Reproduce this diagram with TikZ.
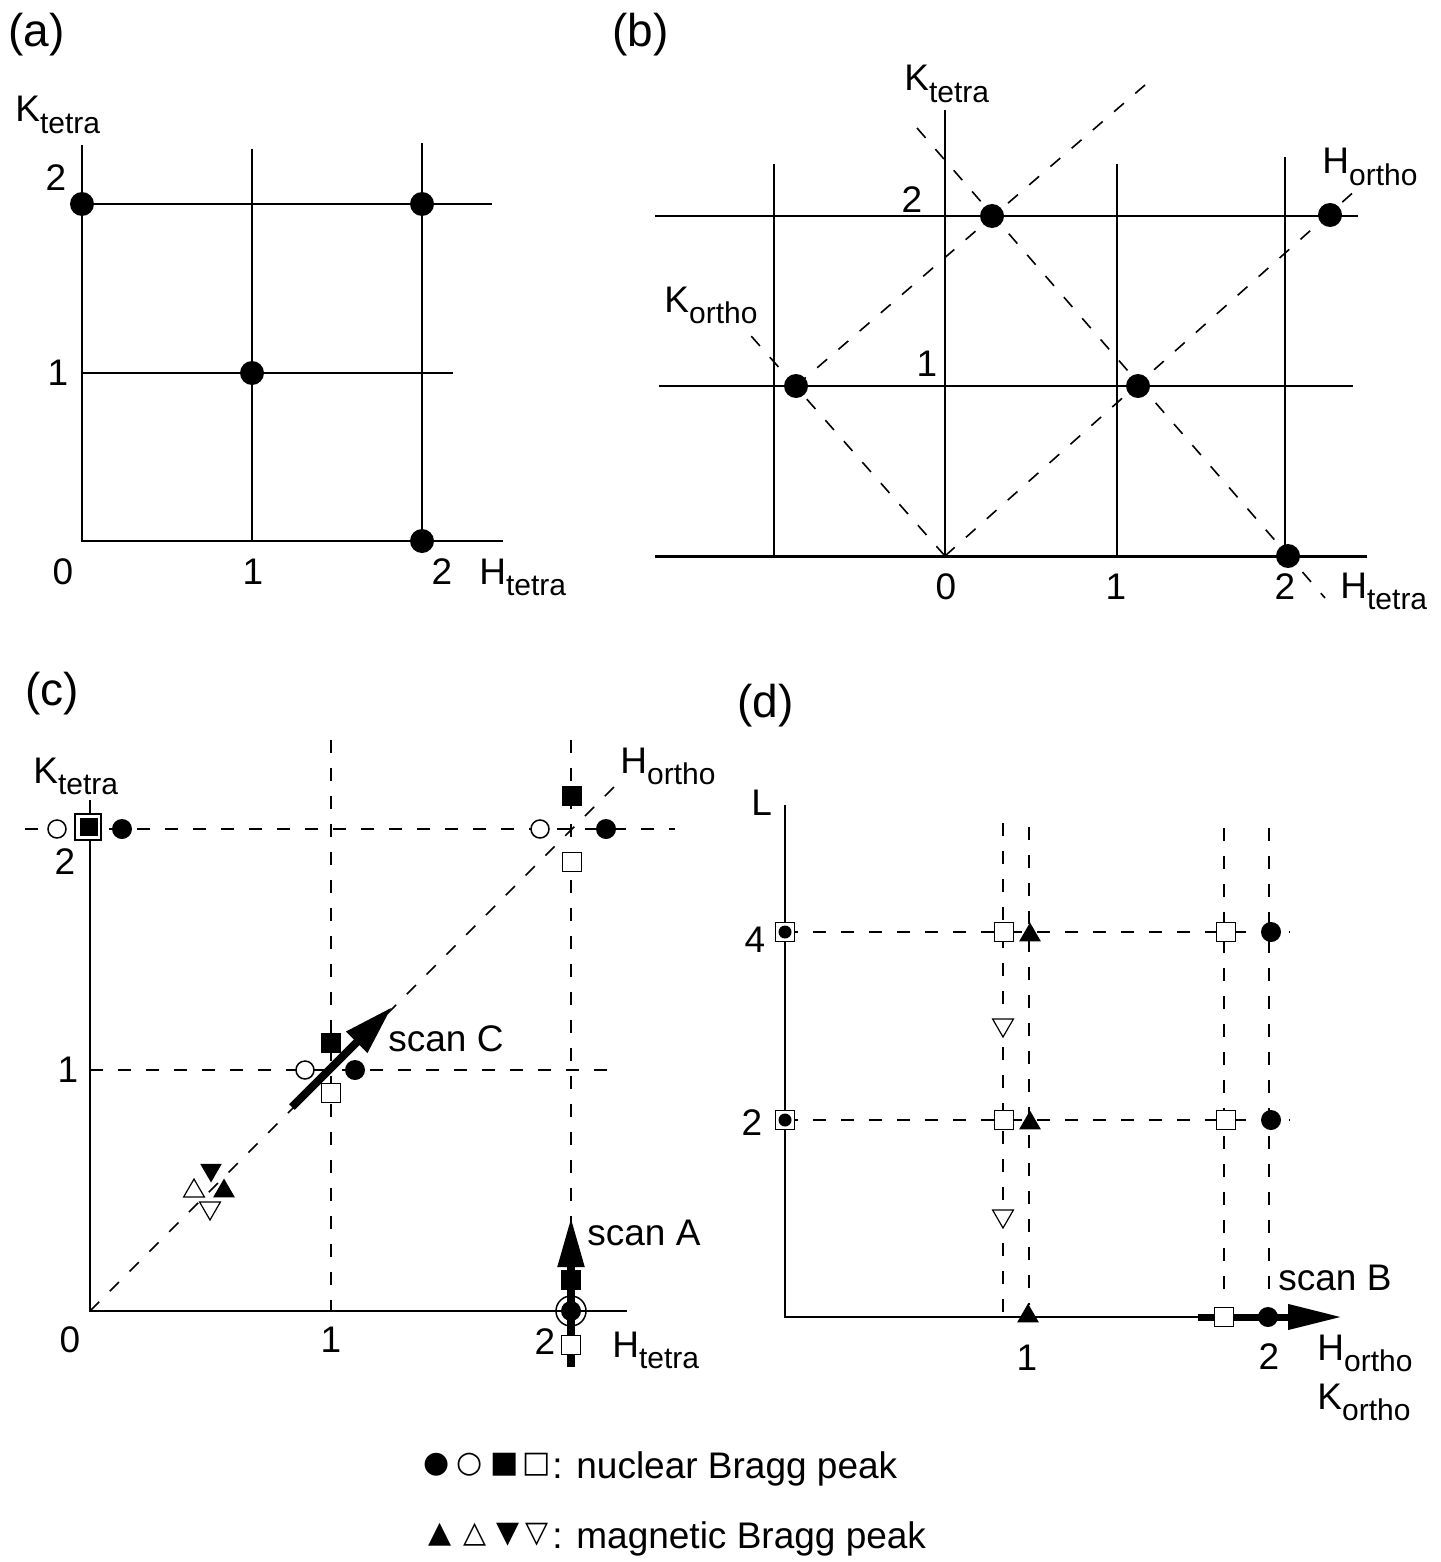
\documentclass[tikz,border=0pt]{standalone}
\usepackage{fontspec}
\setmainfont{Liberation Sans}
\newfontfamily\symfont{DejaVu Sans}
\usetikzlibrary{arrows.meta,shapes.geometric}
\newcommand{\lsub}[1]{\raisebox{-0.3em}{\fontsize{15}{15}\selectfont #1}}
\begin{document}
\begin{tikzpicture}[x=0.5pt, y=-0.5pt,
  lbl/.style={inner sep=0pt, font=\fontsize{18.5}{21}\selectfont},
  plbl/.style={inner sep=0pt, font=\fontsize{23}{26}\selectfont},
  symlbl/.style={inner sep=0pt, font=\fontsize{15}{17}\selectfont\symfont},
  gridln/.style={line width=0.8pt},
  axln/.style={line width=1pt},
  dashln/.style={line width=0.8pt, dash pattern=on 6.5pt off 7.5pt},
  bigdot/.style={circle, fill=black, inner sep=0pt, minimum size=12pt},
  fdot/.style={circle, fill=black, inner sep=0pt, minimum size=10pt},
  odot/.style={circle, draw=black, fill=white, line width=0.75pt, inner sep=0pt, minimum size=9pt},
  ring/.style={circle, draw=black, line width=0.75pt, inner sep=0pt, minimum size=15pt},
  fsq/.style={rectangle, fill=black, inner sep=0pt, minimum size=10pt},
  osq/.style={rectangle, draw=black, fill=white, line width=0.75pt, inner sep=0pt, minimum size=9.5pt},
  bsq/.style={rectangle, draw=black, fill=white, line width=0.9pt, inner sep=0pt, minimum size=13pt},
  smdot/.style={circle, fill=black, inner sep=0pt, minimum size=6.5pt},
  ftri/.style={regular polygon, regular polygon sides=3, fill=black, inner sep=0pt, minimum size=12.5pt},
  otri/.style={regular polygon, regular polygon sides=3, draw=black, fill=white, line width=0.6pt, inner sep=0pt, minimum size=12pt},
  flipdown/.style={shape border rotate=180}
]
\fill[white] (0,0) rectangle (1440,1562);
\useasboundingbox (0,0) rectangle (1440,1562);

%% ---------------- (a) ----------------
\coordinate (aO) at (82,541);
\coordinate (aYt) at (82,145);
\coordinate (aXr) at (503,541);
\draw[axln] (aYt) -- (aO) -- (aXr);
\draw[gridln] (82,204) -- (492,204);
\draw[gridln] (82,373) -- (453,373);
\draw[gridln] (252,149) -- (252,541);
\draw[gridln] (422,143) -- (422,541);
\node[bigdot] (ad1) at (82,204) {};
\node[bigdot] (ad2) at (422,204) {};
\node[bigdot] (ad3) at (252,373) {};
\node[bigdot] (ad4) at (422,541) {};
\node[plbl, anchor=base west] (pa) at (8,47) {(a)};
\node[lbl, anchor=base west] (aK) at (15,122) {K\lsub{tetra}};
\node[lbl] (aY2) at (56,178) {2};
\node[lbl] (aY1) at (58,373) {1};
\node[lbl] (aX0) at (63,572) {0};
\node[lbl] (aX1) at (253,572) {1};
\node[lbl] (aX2) at (442,572) {2};
\node[lbl, anchor=base west] (aH) at (479,584) {H\lsub{tetra}};

%% ---------------- (b) ----------------
\coordinate (bO) at (945,556);
\draw[line width=1.5pt] (655,556) -- (1367,556);
\draw[gridln] (945,110) -- (bO);
\draw[gridln] (655,216) -- (1358,216);
\draw[gridln] (659,386) -- (1353,386);
\draw[gridln] (774,164) -- (774,556);
\draw[gridln] (1117,164) -- (1117,556);
\draw[gridln] (1285,157) -- (1285,556);
\draw[dashln] (bO) -- (1357,189);
\draw[dashln] (796,386) -- (1145,85);
\draw[dashln] (bO) -- (745,329);
\draw[dashln] (917,128) -- (1325,598);
\node[bigdot] (bd1) at (992,216) {};
\node[bigdot] (bd2) at (1330,215) {};
\node[bigdot] (bd3) at (796,386) {};
\node[bigdot] (bd4) at (1138,386) {};
\node[bigdot] (bd5) at (1288,556) {};
\node[plbl, anchor=base west] (pb) at (612,47) {(b)};
\node[lbl, anchor=base west] (bK) at (904,91) {K\lsub{tetra}};
\node[lbl, anchor=base west] (bHo) at (1322,174) {H\lsub{ortho}};
\node[lbl, anchor=base west] (bKo) at (664,312) {K\lsub{ortho}};
\node[lbl] (bY2) at (912,200) {2};
\node[lbl] (bY1) at (927,364) {1};
\node[lbl] (bX0) at (946,587) {0};
\node[lbl] (bX1) at (1116,587) {1};
\node[lbl] (bX2) at (1285,587) {2};
\node[lbl, anchor=base west] (bH) at (1340,598) {H\lsub{tetra}};

%% ---------------- (c) ----------------
\coordinate (cO) at (90,1311);
\draw[axln] (90,800) -- (cO) -- (627,1311);
\draw[dashln] (25,829) -- (675,829);
\draw[dashln] (90,1070) -- (620,1070);
\draw[dashln] (331,740) -- (331,1311);
\draw[dashln] (571,740) -- (571,1311);
\draw[dashln] (cO) -- (620,781);
% (0,2)
\node[odot] (c1) at (57,829) {};
\node[bsq] (c2) at (88,827) {};
\node[fsq, minimum size=9pt] (c3) at (89,827) {};
\node[fdot] (c4) at (122,829) {};
% (2,2)
\node[odot] (c5) at (540,829) {};
\node[fsq] (c6) at (572,796) {};
\node[fdot] (c7) at (606,829) {};
\node[osq] (c8) at (572,862) {};
% (1,1)
\node[fsq] (c9) at (331,1043) {};
\node[odot] (c10) at (305,1070) {};
\node[fdot] (c11) at (355,1070) {};
\node[osq] (c12) at (331,1093) {};
% magnetic (1/2,1/2)
\node[ftri, flipdown] (c13) at (211,1170) {};
\node[otri] (c14) at (194,1191) {};
\node[ftri] (c15) at (224,1191) {};
\node[otri, flipdown] (c16) at (210,1208) {};
% scan C
\coordinate (sCt) at (292,1107);
\coordinate (sCh) at (392,1007);
\draw[line width=4pt, -{Triangle[length=25pt,width=14pt]}] (sCt) -- (sCh);
% (2,0) and scan A
\node[ring] (c17) at (571,1311) {};
\coordinate (sAt) at (571,1367);
\coordinate (sAh) at (571,1217);
\draw[line width=4pt, -{Triangle[length=25pt,width=12.5pt]}] (sAt) -- (sAh);
\node[fdot] (c18) at (571,1311) {};
\node[fsq] (c19) at (571,1280) {};
\node[osq] (c20) at (571,1345) {};
\node[plbl, anchor=base west] (pc) at (25,705) {(c)};
\node[lbl, anchor=base west] (cK) at (33,783) {K\lsub{tetra}};
\node[lbl, anchor=base west] (cHo) at (620,773) {H\lsub{ortho}};
\node[lbl] (cY2) at (65,862) {2};
\node[lbl] (cY1) at (68,1070) {1};
\node[lbl] (cX0) at (70,1340) {0};
\node[lbl] (cX1) at (331,1340) {1};
\node[lbl] (cX2) at (545,1342) {2};
\node[lbl, anchor=base west] (cH) at (612,1357) {H\lsub{tetra}};
\node[lbl, anchor=base west] (scC) at (388,1051) {scan C};
\node[lbl, anchor=base west] (scA) at (587,1245) {scan A};

%% ---------------- (d) ----------------
\coordinate (dO) at (785,1317);
\draw[axln] (785,805) -- (dO) -- (1198,1317);
\draw[dashln] (785,932) -- (1290,932);
\draw[dashln] (785,1120) -- (1290,1120);
\draw[dashln] (1003,823) -- (1003,1317);
\draw[dashln] (1029,827) -- (1029,1305);
\draw[dashln] (1224,828) -- (1224,1292);
\draw[dashln] (1269,828) -- (1269,1292);
% L = 4
\node[osq] (d1) at (785,932) {};
\node[smdot] (d2) at (785,932) {};
\node[osq] (d3) at (1004,932) {};
\node[ftri] (d4) at (1030,935) {};
\node[osq] (d5) at (1226,932) {};
\node[fdot] (d6) at (1271,932) {};
% L = 2
\node[osq] (d7) at (785,1120) {};
\node[smdot] (d8) at (785,1120) {};
\node[osq] (d9) at (1004,1120) {};
\node[ftri] (d10) at (1030,1123) {};
\node[osq] (d11) at (1226,1120) {};
\node[fdot] (d12) at (1271,1120) {};
% magnetic
\node[otri, flipdown] (d13) at (1003,1025) {};
\node[otri, flipdown] (d14) at (1003,1216) {};
\node[ftri] (d15) at (1028,1316) {};
% scan B
\coordinate (sBt) at (1198,1317);
\coordinate (sBh) at (1342,1317);
\draw[line width=3.5pt, -{Triangle[length=27pt,width=12pt]}] (sBt) -- (sBh);
\node[osq] (d16) at (1224,1317) {};
\node[fdot] (d17) at (1268,1317) {};
\node[plbl, anchor=base west] (pd) at (737,717) {(d)};
\node[lbl, anchor=base west] (dL) at (751,815) {L};
\node[lbl] (dY4) at (755,940) {4};
\node[lbl] (dY2) at (752,1123) {2};
\node[lbl] (dX1) at (1027,1358) {1};
\node[lbl] (dX2) at (1269,1357) {2};
\node[lbl, anchor=base west] (dH) at (1317,1360) {H\lsub{ortho}};
\node[lbl, anchor=base west] (dK) at (1317,1409) {K\lsub{ortho}};
\node[lbl, anchor=base west] (scB) at (1278,1290) {scan B};

%% ---------------- legend ----------------
\node[symlbl] (l1) at (437,1465) {●};
\node[symlbl] (l2) at (470,1465) {○};
\node[symlbl] (l3) at (505,1465) {■};
\node[symlbl] (l4) at (537,1465) {□};
\node[lbl, anchor=base west] (lt1) at (552,1478) {: nuclear Bragg peak};
\node[symlbl] (l5) at (440,1535) {▲};
\node[symlbl] (l6) at (475,1535) {△};
\node[symlbl] (l7) at (508,1535) {▼};
\node[symlbl] (l8) at (537,1535) {▽};
\node[lbl, anchor=base west] (lt2) at (552,1548) {: magnetic Bragg peak};
\end{tikzpicture}
\end{document}
